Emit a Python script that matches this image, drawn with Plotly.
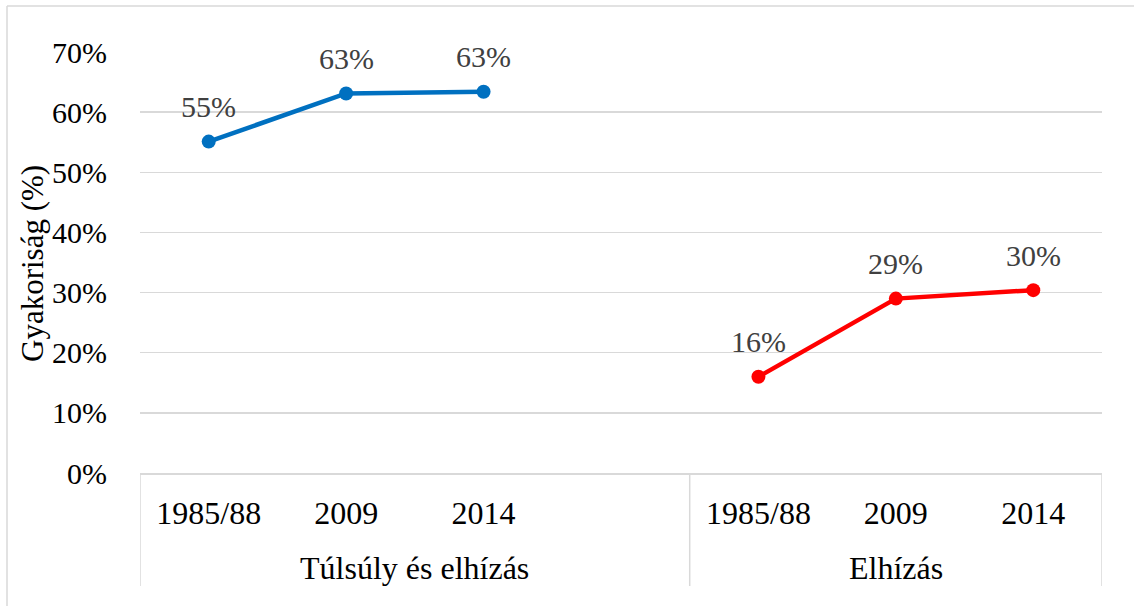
import plotly.graph_objects as go

# ---- data ----
cat_labels = ["1985/88", "2009", "2014", "", "1985/88", "2009", "2014"]
cat_pos = [0, 1, 2, 3, 4, 5, 6]
groups = ["Túlsúly és elhízás", "Elhízás"]
group_center = [1.5, 5.0]
group_edges = [-0.5, 3.5, 6.5]

overweight_x = [0, 1, 2]
overweight_y = [55.1, 63.1, 63.4]
obese_x = [4, 5, 6]
obese_y = [16.0, 29.0, 30.4]

y_ticks = [0, 10, 20, 30, 40, 50, 60, 70]

FONT = "Liberation Serif, Times New Roman, serif"
W, H = 1134, 606
L, R, T, B = 140, 32, 52, 133
ph = H - T - B
pw = W - L - R

def py(pix):
    return (H - B - pix) / ph

def px(pix):
    return (pix - L) / pw

fig = go.Figure()
fig.add_trace(go.Scatter(x=overweight_x, y=overweight_y, mode="lines+markers",
                         line=dict(color="#0070C0", width=4.5),
                         marker=dict(size=14, color="#0070C0"),
                         showlegend=False, hoverinfo="skip"))
fig.add_trace(go.Scatter(x=obese_x, y=obese_y, mode="lines+markers",
                         line=dict(color="#FF0000", width=4.5),
                         marker=dict(size=14, color="#FF0000"),
                         showlegend=False, hoverinfo="skip"))

anns = []
for xs, ys in [(overweight_x, overweight_y), (obese_x, obese_y)]:
    for xv, yv in zip(xs, ys):
        anns.append(dict(x=xv, y=yv, xref="x", yref="y", text=f"{round(yv):d}%",
                         showarrow=False, yanchor="middle", yshift=35,
                         font=dict(family=FONT, size=30, color="#404040")))
for g, c in zip(groups, group_center):
    anns.append(dict(x=c, y=py(568), xref="x", yref="paper", text=g,
                     showarrow=False, yanchor="middle", xanchor="center",
                     font=dict(family=FONT, size=32, color="#000000")))
anns.append(dict(x=px(32), y=py(264), xref="paper", yref="paper",
                 text="Gyakoriság (%)", textangle=-90, showarrow=False,
                 xanchor="center", yanchor="middle",
                 font=dict(family=FONT, size=31, color="#000000")))

shapes = []
for e in group_edges:
    shapes.append(dict(type="line", xref="x", yref="paper", x0=e, x1=e,
                       y0=0, y1=py(586), line=dict(color="#D9D9D9", width=1.5)))
shapes.append(dict(type="line", xref="paper", yref="paper", x0=px(7), x1=px(1140),
                   y0=py(6), y1=py(6), line=dict(color="#D9D9D9", width=1.5)))
shapes.append(dict(type="line", xref="paper", yref="paper", x0=px(7), x1=px(7),
                   y0=py(6), y1=py(610), line=dict(color="#D9D9D9", width=1.5)))

fig.update_layout(
    width=W, height=H,
    margin=dict(l=L, r=R, t=T, b=B, pad=0),
    paper_bgcolor="white", plot_bgcolor="white",
    font=dict(family=FONT, size=30, color="#000000"),
    xaxis=dict(range=[-0.5, 6.5], tickmode="array", tickvals=cat_pos, ticktext=cat_labels,
               showgrid=False, zeroline=False, showline=True, linecolor="#D9D9D9", linewidth=1.5,
               ticks="", ticklabelstandoff=11, tickfont=dict(family=FONT, size=32, color="#000000"),
               fixedrange=True),
    yaxis=dict(range=[0, 70], tickmode="array", tickvals=y_ticks,
               ticktext=[f"{v}%" for v in y_ticks],
               showgrid=True, gridcolor="#D9D9D9", gridwidth=1.5, zeroline=False,
               showline=False, ticks="", ticklabelstandoff=32,
               tickfont=dict(family=FONT, size=30, color="#000000"), fixedrange=True),
    annotations=anns, shapes=shapes,
)
fig.write_html("out.html", config={"displayModeBar": False, "staticPlot": True},
               post_script="document.body.style.margin='0';document.body.style.overflow='hidden';")
